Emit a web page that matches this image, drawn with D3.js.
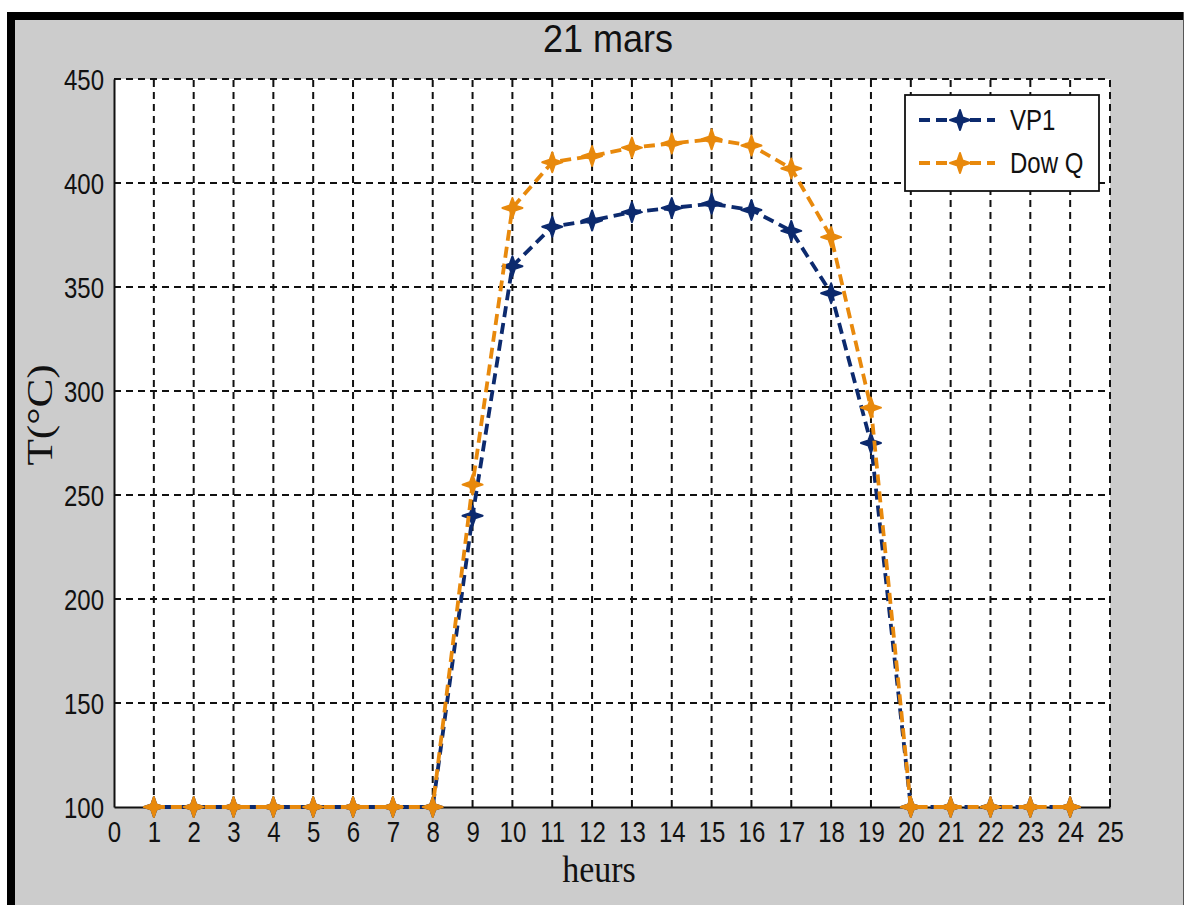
<!DOCTYPE html>
<html>
<head>
<meta charset="utf-8">
<script src="https://cdn.jsdelivr.net/npm/d3@7"></script>
<style>
  html, body { margin: 0; padding: 0; background: #ffffff; }
  svg { display: block; }
</style>
</head>
<body>
<svg id="chart" width="1185" height="905"></svg>
<script>
// Hourly temperature on 21 March for two heat-transfer fluids
const hours = [1, 2, 3, 4, 5, 6, 7, 8, 9, 10, 11, 12, 13, 14, 15, 16, 17, 18, 19, 20, 21, 22, 23, 24];
const vp1   = [100, 100, 100, 100, 100, 100, 100, 100, 240, 360, 379, 382, 386, 388, 390, 387, 377, 347, 275, 100, 100, 100, 100, 100];
const dowQ  = [100, 100, 100, 100, 100, 100, 100, 100, 255, 388, 410, 413, 417, 419, 421, 418, 407, 374, 292, 100, 100, 100, 100, 100];
const seriesNames = ["VP1", "Dow Q"];
const seriesColors = ["#0c2a6e", "#e8890c"];
const xTicks = d3.range(0, 26);
const yTicks = [100, 150, 200, 250, 300, 350, 400, 450];
const titleText = "21 mars";
const xLabel = "heurs";
const yLabel = "T(°C)";

(function () {
const svg = d3.select("#chart");

// figure background and frame
svg.append("rect").attr("x", 15).attr("y", 20).attr("width", 1168).attr("height", 885).attr("fill", "#cccccc");
svg.append("rect").attr("x", 7).attr("y", 12).attr("width", 8).attr("height", 893).attr("fill", "#000");
svg.append("rect").attr("x", 7).attr("y", 12).attr("width", 1176).attr("height", 8).attr("fill", "#000");
svg.append("line").attr("x1", 1183.5).attr("x2", 1183.5).attr("y1", 12).attr("y2", 905)
  .attr("stroke", "#555").attr("stroke-width", 1);

const pLeft = 114, pRight = 1110, pTop = 79, pBottom = 807;
const x = d3.scaleLinear().domain([0, 25]).range([pLeft, pRight]);
const y = d3.scaleLinear().domain([100, 450]).range([pBottom, pTop]);

// plot area
svg.append("rect").attr("x", pLeft).attr("y", pTop).attr("width", pRight - pLeft).attr("height", pBottom - pTop)
  .attr("fill", "#fff");

// grid
const grid = svg.append("g").attr("stroke", "#111").attr("stroke-width", 2).attr("stroke-dasharray", "7,5");
grid.selectAll("line.v").data(xTicks.slice(1)).join("line").attr("class", "v")
  .attr("x1", d => x(d)).attr("x2", d => x(d)).attr("y1", pBottom).attr("y2", pTop);
grid.selectAll("line.h").data(yTicks.slice(1)).join("line").attr("class", "h")
  .attr("y1", d => y(d)).attr("y2", d => y(d)).attr("x1", pLeft).attr("x2", pRight);

// axes (left and bottom solid)
const xAxis = d3.axisBottom(x).tickValues(xTicks).tickSize(0).tickPadding(0).tickFormat(d3.format("d"));
const yAxis = d3.axisLeft(y).tickValues(yTicks).tickSize(0).tickPadding(0).tickFormat(d3.format("d"));

const gx = svg.append("g").attr("transform", `translate(0,${pBottom})`).call(xAxis);
const gy = svg.append("g").attr("transform", `translate(${pLeft},0)`).call(yAxis);
[gx, gy].forEach(g => {
  g.select(".domain").attr("stroke", "#111").attr("stroke-width", 2);
  g.selectAll("text").attr("font-family", "Liberation Sans, Arial, sans-serif")
    .attr("font-size", 24).attr("fill", "#111");
});
gx.selectAll(".tick text").attr("dy", null).attr("y", null)
  .attr("transform", "translate(0,35) scale(1,1.2)");
gy.selectAll(".tick text").attr("dy", null).attr("x", null)
  .attr("transform", "translate(-10,10) scale(1,1.2)");
// small tick at the right end of the bottom axis
svg.append("line").attr("x1", pRight).attr("x2", pRight).attr("y1", pBottom).attr("y2", pBottom - 8)
  .attr("stroke", "#111").attr("stroke-width", 2);

// marker shape: four-pointed star
const starPath = (() => {
  const R = 10, r = 3.6;
  const pts = [];
  for (let i = 0; i < 8; i++) {
    const a = -Math.PI / 2 + i * Math.PI / 4;
    const rr = i % 2 === 0 ? R : r;
    pts.push([rr * Math.cos(a), rr * Math.sin(a)]);
  }
  return "M" + pts.map(p => p.join(",")).join("L") + "Z";
})();

const line = d3.line().x((d, i) => x(hours[i])).y(d => y(d));

const dataSets = [vp1, dowQ];
dataSets.forEach((vals, k) => {
  const g = svg.append("g");
  g.append("path").datum(vals).attr("d", line)
    .attr("fill", "none").attr("stroke", seriesColors[k]).attr("stroke-width", 3.8)
    .attr("stroke-dasharray", "11,6").attr("stroke-dashoffset", k === 0 ? 8 : 0);
  g.selectAll("path.m").data(vals).join("path").attr("class", "m")
    .attr("transform", (d, i) => `translate(${x(hours[i])},${y(d)})`)
    .attr("d", starPath).attr("fill", seriesColors[k])
    .attr("stroke", seriesColors[k]).attr("stroke-width", 2).attr("stroke-linejoin", "round");
});

// legend
const lg = svg.append("g");
lg.append("rect").attr("x", 905).attr("y", 95).attr("width", 194).attr("height", 96)
  .attr("fill", "#fff").attr("stroke", "#111").attr("stroke-width", 1.8);
seriesNames.forEach((name, k) => {
  const ly = 120 + k * 43;
  lg.append("line").attr("x1", 919).attr("x2", 995).attr("y1", ly).attr("y2", ly)
    .attr("stroke", seriesColors[k]).attr("stroke-width", 3.8).attr("stroke-dasharray", "11,6");
  lg.append("path").attr("transform", `translate(960,${ly})`).attr("d", starPath)
    .attr("fill", seriesColors[k]).attr("stroke", seriesColors[k]).attr("stroke-width", 2)
    .attr("stroke-linejoin", "round");
  lg.append("text").attr("transform", `translate(1010,${ly + 10}) scale(1,1.2)`)
    .attr("font-family", "Liberation Sans, Arial, sans-serif").attr("font-size", 24)
    .attr("fill", "#111").text(name);
});

// title and axis labels
svg.append("text").attr("transform", "translate(608,52) scale(1,1.1)")
  .attr("text-anchor", "middle").attr("font-family", "Liberation Sans, Arial, sans-serif")
  .attr("font-size", 36).attr("fill", "#111").text(titleText);
svg.append("text").attr("transform", "translate(599,882) scale(1,1.1)")
  .attr("text-anchor", "middle").attr("font-family", "Liberation Serif, Times New Roman, serif")
  .attr("font-size", 34).attr("fill", "#111").text(xLabel);
svg.append("text").attr("transform", "translate(52,415) scale(1,1.2) rotate(-90)")
  .attr("text-anchor", "middle").attr("font-family", "Liberation Serif, Times New Roman, serif")
  .attr("font-size", 36).attr("fill", "#111").text(yLabel);
})();
</script>
</body>
</html>
